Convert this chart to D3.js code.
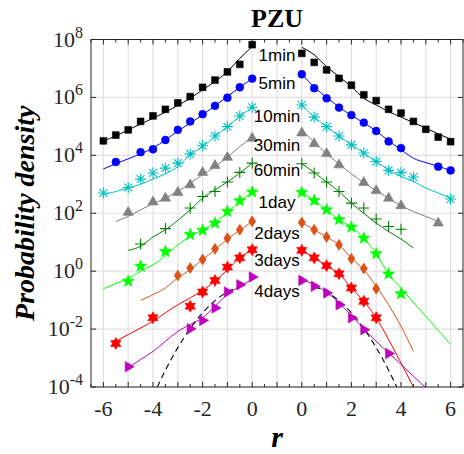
<!DOCTYPE html>
<html><head><meta charset="utf-8">
<script src="https://cdn.jsdelivr.net/npm/d3@7"></script>
<style>body{margin:0;background:#fff}
.serif{font-family:'Liberation Serif','Times New Roman',serif}
.sans{font-family:'Liberation Sans',Arial,sans-serif}
</style>
</head><body>
<svg id="chart" width="464" height="454"></svg>
<script>
// ---------- DATA (log10 of probability density) ----------
const rLeft  = [-6,-5.5,-5,-4.5,-4,-3.5,-3,-2.5,-2,-1.5,-1,-0.5,0];
const rRight = [0,0.5,1,1.5,2,2.5,3,3.5,4,4.5,5,5.5,6];
const seriesNames = ["1min","5min","10min","30min","60min","1day","2days","3days","4days"];

const mk1minL = [4.5,4.70,4.88,5.17,5.36,5.59,5.81,6.03,6.35,6.60,6.88,7.14,7.82];
const ln1minL = [4.5,4.67,4.88,5.08,5.28,5.49,5.72,5.97,6.26,6.55,6.89,7.35,7.75];
const mk1minR = [7.52,7.21,6.95,6.66,6.42,6.09,5.89,5.59,5.46,5.17,4.90,4.63,4.47];
const ln1minR = [7.73,7.47,7.06,6.72,6.37,5.97,5.74,5.51,5.32,5.13,4.94,4.74,4.56];

const mk5minL = [null,3.77,null,4.11,4.21,4.53,4.88,5.17,5.42,5.71,5.99,6.35,6.65];
const ln5minL = [3.53,3.71,3.88,4.05,4.25,4.53,4.84,5.11,5.40,5.71,6.03,6.35,6.65];
const mk5minR = [6.80,6.32,5.97,5.65,5.39,5.13,4.84,4.48,4.25,null,null,3.61,3.48];
const ln5minR = [6.80,6.36,6.00,5.67,5.38,5.12,4.84,4.50,4.20,3.90,3.75,3.62,3.48];

const mk10minL = [2.70,null,2.89,3.18,3.39,3.56,3.73,4.05,4.33,4.67,4.99,5.36,5.66];
const ln10minL = [2.64,2.75,2.87,3.00,3.18,3.36,3.61,4.02,4.30,4.65,4.99,5.34,5.66];
const mk10minR = [5.74,5.32,4.99,4.67,4.36,4.08,3.79,3.48,3.41,3.25,null,null,2.49];
const ln10minR = [5.74,5.32,4.99,4.67,4.36,4.08,3.78,3.50,3.27,3.10,2.87,2.70,2.52];

const mk30minL = [null,null,2.03,null,2.39,2.52,2.72,2.98,3.41,3.65,3.93,null,4.59];
const ln30minL = [null,1.72,1.89,2.12,2.33,2.52,2.75,3.04,3.33,3.61,3.94,4.30,4.64];
const mk30minR = [4.77,4.40,4.06,3.67,null,3.06,2.78,2.52,2.26,null,null,1.66,null];
const ln30minR = [4.88,4.45,4.06,3.70,3.36,3.06,2.78,2.52,2.26,2.06,1.89,1.72,null];

const mk60minL = [null,null,null,0.94,null,1.47,null,2.18,2.58,2.75,3.08,3.41,3.73];
const ln60minL = [null,null,0.72,0.86,1.18,1.43,1.75,2.12,2.52,2.81,3.08,3.39,3.73];
const mk60minR = [3.71,3.39,3.08,2.75,2.35,2.18,1.80,1.54,1.45,null,null,null,null];
const ln60minR = [3.71,3.41,3.08,2.75,2.35,2.00,1.66,1.37,1.11,0.80,null,null,null];

const mk1dayL = [null,null,-0.35,0.17,null,0.68,null,1.26,1.41,1.66,2.06,2.43,2.73];
const ln1dayL = [-0.61,-0.43,-0.25,0.00,0.22,0.53,0.91,1.20,1.43,1.68,2.03,2.41,2.73];
const mk1dayR = [2.72,2.44,2.12,1.78,1.52,1.14,0.60,-0.10,-0.78,null,null,null,null];
const ln1dayR = [2.72,2.44,2.12,1.78,1.52,1.14,0.60,-0.10,-0.58,-1.08,-1.56,-2.04,-2.53];

const mk2daysL = [null,null,null,null,null,null,-0.15,0.11,0.40,0.77,1.14,1.43,1.72];
const ln2daysL = [null,null,null,-1.01,-0.81,-0.58,-0.23,0.05,0.40,0.74,1.11,1.41,1.72];
const mk2daysR = [1.68,1.43,1.18,0.91,0.43,0.09,-0.61,null,null,null,null,null,null];
const ln2daysR = [1.68,1.43,1.18,0.91,0.45,0.05,-0.52,-1.16,-1.90,-2.77,null,null,null];

const mk3daysL = [null,-2.50,null,null,-1.61,null,null,-1.21,-0.72,-0.32,0.14,0.46,0.74];
const ln3daysL = [null,-2.42,-2.19,-1.96,-1.73,-1.44,-1.16,-0.92,-0.66,-0.35,0.05,0.46,0.74];
const mk3daysR = [0.72,0.46,0.19,-0.09,-0.58,-1.04,-1.61,null,null,null,null,null,null];
const ln3daysR = [0.72,0.46,0.19,-0.09,-0.58,-1.04,-1.61,-2.36,-3.17,-4.00,null,null,null];

const mk4daysL = [null,null,-3.30,null,null,null,null,-1.99,-1.70,-1.27,-0.72,-0.47,-0.20];
const ln4daysL = [null,null,-3.34,-3.05,-2.77,-2.42,-2.08,-1.84,-1.61,-1.21,-0.81,-0.52,-0.29];
const mk4daysR = [-0.32,-0.52,-0.75,-1.16,-1.61,-2.02,null,-2.84,null,null,null,null,null];
const ln4daysR = [-0.29,-0.47,-0.73,-1.10,-1.53,-1.99,-2.42,-2.82,-3.22,-3.63,-4.02,null,null];

// Gaussian reference (dashed)
const rGaussL = [-4,-3.5,-3,-2.5,-2,-1.5,-1,-0.5];
const rGaussR = [0.5,1,1.5,2,2.5,3,3.5,4];
const gaussL = [-4.32,-3.42,-2.64,-1.98,-1.44,-1.02,-0.72,-0.54];
const gaussR = [-0.54,-0.72,-1.02,-1.44,-1.98,-2.64,-3.42,-4.32];

// label anchors (log10 density, text centre)
const labelExp = [7.47,6.50,5.36,4.36,3.50,2.40,1.33,0.40,-0.67];

// axis ticks
const yTickExp = [8,6,4,2,0,-2,-4];
const xTickLabels = ["-6","-4","-2","0","0","2","4","6"];

// ---------- STYLE ----------
const colors = ["#000000","#0000ff","#00bfbf","#808080","#007f00","#00ff00","#d95319","#ff0000","#bf00bf"];
const markerKinds = ["square","circle","asterisk","triUp","plus","star","diamond","hexagram","triRight"];

const series = seriesNames.map((n,i)=>({
  name:n, color:colors[i], kind:markerKinds[i],
  mkL:[mk1minL,mk5minL,mk10minL,mk30minL,mk60minL,mk1dayL,mk2daysL,mk3daysL,mk4daysL][i],
  lnL:[ln1minL,ln5minL,ln10minL,ln30minL,ln60minL,ln1dayL,ln2daysL,ln3daysL,ln4daysL][i],
  mkR:[mk1minR,mk5minR,mk10minR,mk30minR,mk60minR,mk1dayR,mk2daysR,mk3daysR,mk4daysR][i],
  lnR:[ln1minR,ln5minR,ln10minR,ln30minR,ln60minR,ln1dayR,ln2daysR,ln3daysR,ln4daysR][i]
}));

const svg = d3.select("#chart");
const L=91, R=463, T=39.5, B=387;
const xU = d3.scaleLinear().domain([-7.5,7.5]).range([L,R]);
const y = d3.scaleLog().domain([1e-4,1e8]).range([B,T]);
const gap = 1;
const xLeft = r => xU(r-gap), xRight = r => xU(r+gap);
const val = e => Math.pow(10,e);

svg.append("defs").append("clipPath").attr("id","clip")
  .append("rect").attr("x",L).attr("y",T).attr("width",R-L).attr("height",B-T);

// grid
const grid = svg.append("g").attr("stroke","#e1e1e1").attr("stroke-width",1.2);
d3.range(-7,7.01,1).forEach(u=>{
  grid.append("line").attr("x1",xU(u)).attr("x2",xU(u)).attr("y1",T).attr("y2",B);
});
yTickExp.forEach(e=>{
  grid.append("line").attr("x1",L).attr("x2",R).attr("y1",y(val(e))).attr("y2",y(val(e)));
});

const plot = svg.append("g").attr("clip-path","url(#clip)");

// lines
const line = (xf)=> d3.line().defined(d=>d[1]!=null).x(d=>xf(d[0])).y(d=>y(val(d[1]))).curve(d3.curveMonotoneX);
series.forEach(s=>{
  plot.append("path").attr("d",line(xLeft)(rLeft.map((r,i)=>[r,s.lnL[i]])))
    .attr("fill","none").attr("stroke",s.color).attr("stroke-width",1);
  plot.append("path").attr("d",line(xRight)(rRight.map((r,i)=>[r,s.lnR[i]])))
    .attr("fill","none").attr("stroke",s.color).attr("stroke-width",1);
});
// gaussian
plot.append("path").attr("d",line(xLeft)(rGaussL.map((r,i)=>[r,gaussL[i]])))
  .attr("fill","none").attr("stroke","#000").attr("stroke-width",1.1).attr("stroke-dasharray","6,4");
plot.append("path").attr("d",line(xRight)(rGaussR.map((r,i)=>[r,gaussR[i]])))
  .attr("fill","none").attr("stroke","#000").attr("stroke-width",1.1).attr("stroke-dasharray","6,4");

// marker paths
function starPath(n, R1, R2, rot){
  let p=[];
  for(let k=0;k<2*n;k++){
    const a = rot + k*Math.PI/n;
    const rr = k%2===0?R1:R2;
    p.push([rr*Math.sin(a), -rr*Math.cos(a)]);
  }
  return "M"+p.map(q=>q[0].toFixed(2)+","+q[1].toFixed(2)).join("L")+"Z";
}
const markerDef = {
  square:{d:d3.symbol(d3.symbolSquare,46)(), fill:true},
  circle:{d:d3.symbol(d3.symbolCircle,48)(), fill:true},
  asterisk:{d:"M-5.5,0H5.5M0,-5.5V5.5M-3.9,-3.9L3.9,3.9M-3.9,3.9L3.9,-3.9", fill:false},
  triUp:{d:d3.symbol(d3.symbolTriangle,46)(), fill:true},
  plus:{d:"M-5.5,0H5.5M0,-5.5V5.5", fill:false},
  star:{d:starPath(5,6.4,2.7,0), fill:true},
  diamond:{d:"M0,-5.5L3.6,0L0,5.5L-3.6,0Z", fill:true},
  hexagram:{d:starPath(6,6,3.4,0), fill:true},
  triRight:{d:d3.symbol(d3.symbolTriangle,48)(), fill:true, rot:90}
};

series.forEach(s=>{
  const md = markerDef[s.kind];
  const pts = rLeft.map((r,i)=>[xLeft(r), s.mkL[i]]).concat(rRight.map((r,i)=>[xRight(r), s.mkR[i]]))
    .filter(d=>d[1]!=null);
  plot.selectAll(null).data(pts).enter().append("path")
    .attr("d",md.d)
    .attr("transform",d=>`translate(${d[0]},${y(val(d[1]))})`+(md.rot?` rotate(${md.rot})`:""))
    .attr("fill",md.fill?s.color:"none")
    .attr("stroke",s.color).attr("stroke-width",md.fill?0.6:1.1);
});

// series labels
svg.append("g").attr("class","sans").selectAll("text").data(seriesNames).enter().append("text")
  .attr("x",xU(0)).attr("y",(d,i)=>y(val(labelExp[i])))
  .attr("dy","0.35em").attr("text-anchor","middle")
  .attr("font-size",17)
  .attr("fill","#000").text(d=>d);

// frame & ticks
const ax = svg.append("g").attr("stroke","#262626").attr("stroke-width",1).attr("fill","none");
ax.append("rect").attr("x",L).attr("y",T).attr("width",R-L).attr("height",B-T);
d3.range(-7.5,7.51,0.5).forEach(u=>{
  const len = Number.isInteger(u)?5:3;
  ax.append("line").attr("x1",xU(u)).attr("x2",xU(u)).attr("y1",B).attr("y2",B-len);
  ax.append("line").attr("x1",xU(u)).attr("x2",xU(u)).attr("y1",T).attr("y2",T+len);
});
yTickExp.forEach(e=>{
  const yy=y(val(e));
  ax.append("line").attr("x1",L).attr("x2",L+5).attr("y1",yy).attr("y2",yy);
  ax.append("line").attr("x1",R).attr("x2",R-5).attr("y1",yy).attr("y2",yy);
});

// tick labels
const yl = svg.append("g").attr("class","serif").attr("fill","#262626");
yTickExp.forEach(e=>{
  const t = yl.append("text").attr("x",83).attr("y",y(val(e))+7).attr("text-anchor","end").attr("font-size",22);
  t.append("tspan").text("10");
  t.append("tspan").attr("dy",-9).attr("font-size",16).text(String(e));
});
const xTickU = [-7,-5,-3,-1,1,3,5,7];
xTickU.forEach((u,i)=>{
  yl.append("text").attr("x",xU(u)).attr("y",415.5).attr("text-anchor","middle").attr("font-size",22).text(xTickLabels[i]);
});

// title & axis labels
svg.append("text").attr("class","serif").attr("x",xU(0)).attr("y",27).attr("text-anchor","middle")
  .attr("font-weight","bold").attr("font-size",26).text("PZU");
svg.append("text").attr("class","serif").attr("transform",`translate(34,${(T+B)/2}) rotate(-90)`).attr("text-anchor","middle")
  .attr("font-weight","bold").attr("font-style","italic").attr("font-size",28)
  .text("Probability density");
svg.append("text").attr("class","serif").attr("x",xU(0)).attr("y",447).attr("text-anchor","middle")
  .attr("font-weight","bold").attr("font-style","italic").attr("font-size",30)
  .text("r");
</script>
</body></html>
